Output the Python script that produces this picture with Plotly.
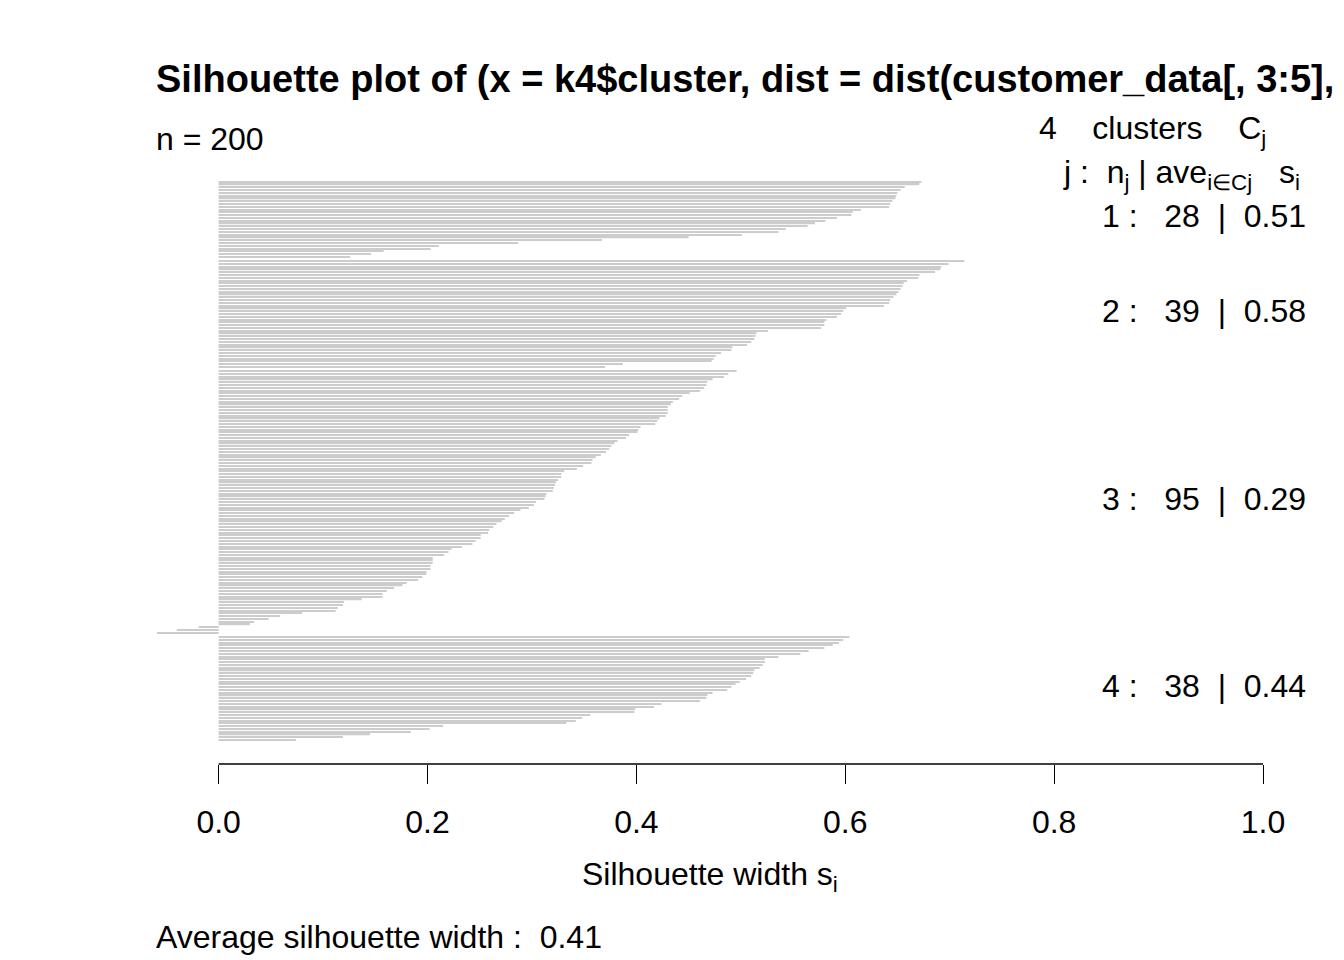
import plotly.graph_objects as go

# ---- data (silhouette widths, sorted within each cluster) ----
cluster_ids = [1, 2, 3, 4]
cluster1 = [0.673, 0.671, 0.657, 0.653, 0.650, 0.649, 0.648, 0.645, 0.643, 0.642,
            0.615, 0.607, 0.606, 0.592, 0.581, 0.571, 0.564, 0.543, 0.536, 0.501,
            0.450, 0.367, 0.287, 0.211, 0.203, 0.158, 0.146, 0.126]
cluster2 = [0.714, 0.699, 0.692, 0.691, 0.686, 0.671, 0.670, 0.659, 0.656, 0.655,
            0.653, 0.651, 0.649, 0.646, 0.643, 0.642, 0.637, 0.601, 0.598, 0.596,
            0.592, 0.582, 0.580, 0.580, 0.577, 0.526, 0.515, 0.514, 0.513, 0.510,
            0.506, 0.492, 0.491, 0.481, 0.476, 0.474, 0.472, 0.387, 0.370]
cluster3 = [0.496, 0.488, 0.484, 0.473, 0.468, 0.467, 0.465, 0.461, 0.451, 0.444,
            0.441, 0.435, 0.433, 0.430, 0.430, 0.430, 0.428, 0.422, 0.420, 0.418,
            0.404, 0.402, 0.401, 0.393, 0.390, 0.382, 0.379, 0.376, 0.374, 0.371,
            0.366, 0.361, 0.358, 0.357, 0.349, 0.343, 0.331, 0.328, 0.328, 0.325,
            0.323, 0.322, 0.321, 0.320, 0.314, 0.313, 0.312, 0.304, 0.302, 0.297,
            0.289, 0.283, 0.278, 0.274, 0.271, 0.266, 0.263, 0.259, 0.258, 0.251,
            0.251, 0.246, 0.243, 0.233, 0.223, 0.220, 0.216, 0.205, 0.205, 0.205,
            0.203, 0.203, 0.199, 0.199, 0.195, 0.191, 0.180, 0.176, 0.168, 0.161,
            0.157, 0.157, 0.137, 0.120, 0.119, 0.114, 0.112, 0.080, 0.059, 0.048,
            0.034, 0.030, -0.019, -0.040, -0.059]
cluster4 = [0.604, 0.598, 0.594, 0.588, 0.580, 0.565, 0.557, 0.536, 0.523, 0.523,
            0.521, 0.518, 0.513, 0.512, 0.510, 0.505, 0.499, 0.495, 0.491, 0.487,
            0.473, 0.468, 0.467, 0.461, 0.424, 0.417, 0.399, 0.398, 0.356, 0.348,
            0.342, 0.333, 0.215, 0.202, 0.184, 0.145, 0.119, 0.074]
cluster_sizes = [28, 39, 95, 38]
cluster_avg = ["0.51", "0.58", "0.29", "0.44"]
overall_avg = "0.41"
n_total = 200
tick_vals = [0.0, 0.2, 0.4, 0.6, 0.8, 1.0]
tick_text = ["0.0", "0.2", "0.4", "0.6", "0.8", "1.0"]
title_text = "Silhouette plot of (x = k4$cluster, dist = dist(customer_data[, 3:5],"

clusters = [cluster1, cluster2, cluster3, cluster4]

# bar positions as in R's barplot: width 1, 0.5 gap between clusters
values, positions, cl_centers = [], [], []
pos = 0.0
for ci, vals in enumerate(clusters):
    if ci > 0:
        pos += 0.5
    start = pos
    for v in vals:
        values.append(v)
        positions.append(pos + 0.5)
        pos += 1.0
    cl_centers.append((start + pos) / 2)
total = pos
pad = 0.04 * total

FONT = "Liberation Sans, Arial, sans-serif"
FS = 32

# plot area pixels
L, R, T, B = 157, 1263, 158, 764
W, H = 1344, 960


def px(x):
    return (x - L) / (R - L)


def py(y):
    return (B - y) / (B - T)


fig = go.Figure()
fig.add_trace(go.Bar(
    x=values, y=positions, orientation="h", width=0.45,
    marker=dict(color="#cccccc", line=dict(width=0)),
    hoverinfo="x",
))

xmin = min(0.0, min(values))
nb = "\u00a0"
ann = []
ann.append(dict(text="<b>" + title_text + "</b>", x=px(154), y=py(79), xanchor="left",
                yanchor="middle", font=dict(size=38)))
ann.append(dict(text="n = %d" % n_total, x=px(154), y=py(139), xanchor="left",
                yanchor="middle"))
ann.append(dict(text="4" + nb * 4 + "clusters" + nb * 4 + "C<sub>j</sub>", x=px(1268), y=py(130),
                xanchor="right", yanchor="middle"))
ann.append(dict(text="j" + nb + ":" + nb * 2 + "n<sub>j</sub>" + nb + "|" + nb + "ave<sub>i\u2208Cj</sub>"
                + nb * 3 + "s<sub>i</sub>", x=px(1302), y=py(175), xanchor="right", yanchor="middle"))
for k, (cid, sz, av, c) in enumerate(zip(cluster_ids, cluster_sizes, cluster_avg, cl_centers)):
    ann.append(dict(text="%d%s:%s%d%s|%s%s" % (cid, nb, nb * 3, sz, nb * 2, nb * 2, av),
                    x=1.0, xref="x", y=c, yref="y", xanchor="right", yanchor="middle",
                    xshift=1308 - 1263, yshift=3))
ann.append(dict(text="Silhouette width s<sub>i</sub>", x=px(710), y=py(876), xanchor="center",
                yanchor="middle"))
ann.append(dict(text="Average silhouette width :" + nb * 2 + overall_avg, x=px(154), y=py(937),
                xanchor="left", yanchor="middle"))
for a in ann:
    a.setdefault("xref", "paper")
    a.setdefault("yref", "paper")
    a["showarrow"] = False
    a.setdefault("font", dict(size=FS))
    a["font"].setdefault("size", FS)
    a["font"]["color"] = "black"
    a["font"]["family"] = FONT

fig.update_layout(
    width=W, height=H,
    margin=dict(l=L, r=W - R, t=T, b=H - B, pad=0),
    paper_bgcolor="white", plot_bgcolor="white",
    showlegend=False,
    font=dict(family=FONT, size=FS, color="black"),
    xaxis=dict(range=[xmin, 1.0], tickvals=tick_vals, ticktext=tick_text,
               ticks="outside", ticklen=19, tickwidth=1.3, tickcolor="black",
               showgrid=False, zeroline=False, showline=False,
               tickfont=dict(size=FS, family=FONT, color="black"), ticklabelstandoff=11),
    yaxis=dict(range=[total + pad, -pad], visible=False, showgrid=False, zeroline=False),
    annotations=ann,
    shapes=[dict(type="line", xref="x", yref="paper", x0=0, x1=1, y0=0, y1=0,
                 line=dict(color="black", width=1.3))],
)

fig.write_html("out.html")
